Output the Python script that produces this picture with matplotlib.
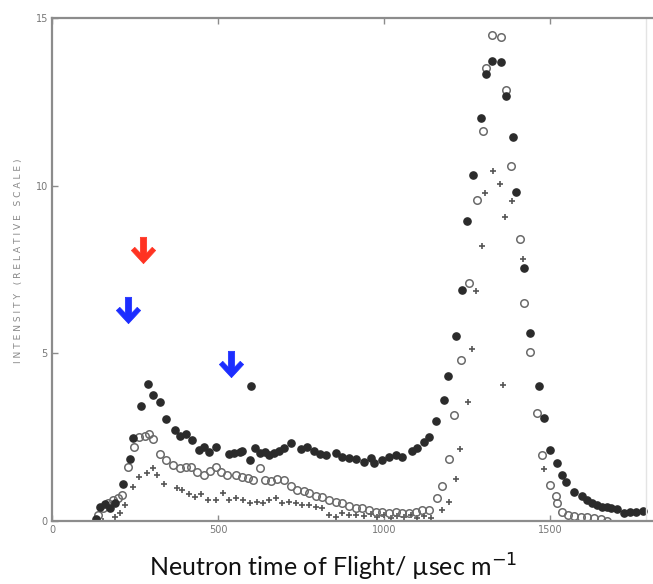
import matplotlib
matplotlib.use("Agg")
import matplotlib.pyplot as plt
from matplotlib.path import Path
import numpy as np

# time of flight (usec/m) and intensity for the three runs
filled_x = [132, 144, 159, 175, 190, 213, 234, 243, 267, 288, 303, 324, 342, 369, 384, 405, 423,
            444, 459, 474, 495, 534, 549, 565, 573, 595, 600, 610, 625, 640, 655, 670, 685, 700,
            720, 751, 769, 790, 808, 826, 856, 874, 895, 915, 940, 961, 970, 994, 1015, 1036,
            1054, 1084, 1099, 1120, 1135, 1156, 1180, 1192, 1216, 1234, 1249, 1267, 1291, 1306,
            1324, 1351, 1366, 1387, 1396, 1423, 1441, 1468, 1483, 1501, 1520, 1535, 1547, 1571,
            1595, 1610, 1625, 1640, 1655, 1670, 1685, 1703, 1724, 1742, 1760, 1781]
filled_y = [0.05, 0.42, 0.5, 0.4, 0.55, 1.1, 1.85, 2.48, 3.43, 4.09, 3.76, 3.55, 3.04, 2.72, 2.54,
            2.6, 2.42, 2.12, 2.21, 2.06, 2.21, 2.0, 2.03, 2.06, 2.09, 1.82, 4.03, 2.18, 2.03, 2.06,
            1.97, 2.03, 2.1, 2.18, 2.33, 2.15, 2.21, 2.09, 2.0, 1.97, 2.03, 1.91, 1.88, 1.85, 1.76,
            1.88, 1.73, 1.82, 1.91, 1.97, 1.91, 2.09, 2.18, 2.36, 2.5, 2.99, 3.6, 4.33, 5.52, 6.9,
            8.96, 10.33, 12.03, 13.34, 13.73, 13.7, 12.66, 11.46, 9.82, 7.55, 5.61, 4.03, 3.07,
            2.12, 1.73, 1.37, 1.16, 0.87, 0.75, 0.63, 0.54, 0.48, 0.42, 0.42, 0.39, 0.36, 0.24,
            0.27, 0.27, 0.30]

open_x = [138, 153, 168, 183, 198, 210, 228, 246, 261, 279, 291, 303, 324, 342, 363, 384, 405,
          420, 438, 459, 477, 495, 510, 528, 555, 573, 589, 604, 625, 640, 661, 679, 700, 721,
          739, 760, 775, 796, 814, 835, 856, 874, 895, 916, 934, 955, 976, 994, 1015, 1036, 1054,
          1075, 1096, 1114, 1135, 1159, 1174, 1195, 1210, 1231, 1255, 1279, 1297, 1306, 1324,
          1351, 1366, 1381, 1408, 1420, 1441, 1462, 1477, 1501, 1518, 1520, 1535, 1553, 1571,
          1592, 1610, 1631, 1652, 1670]
open_y = [0.18, 0.39, 0.54, 0.63, 0.7, 0.78, 1.61, 2.21, 2.51, 2.54, 2.6, 2.45, 2.0, 1.82, 1.67,
          1.58, 1.61, 1.61, 1.46, 1.37, 1.5, 1.61, 1.46, 1.37, 1.37, 1.31, 1.28, 1.22, 1.58, 1.22,
          1.19, 1.25, 1.22, 1.04, 0.93, 0.9, 0.84, 0.75, 0.72, 0.63, 0.57, 0.54, 0.45, 0.39, 0.39,
          0.33, 0.27, 0.27, 0.24, 0.27, 0.24, 0.24, 0.27, 0.33, 0.33, 0.69, 1.04, 1.85, 3.16,
          4.81, 7.1, 9.58, 11.64, 13.52, 14.48, 14.42, 12.84, 10.6, 8.42, 6.5, 5.04, 3.22, 1.97,
          1.07, 0.75, 0.54, 0.27, 0.18, 0.15, 0.12, 0.12, 0.09, 0.06, 0.0]

plus_x = [153, 189, 204, 219, 243, 261, 285, 303, 315, 336, 375, 393, 414, 432, 450, 471, 495,
          516, 534, 555, 574, 595, 616, 634, 655, 676, 694, 715, 736, 754, 775, 796, 814, 835,
          856, 874, 895, 916, 940, 960, 980, 1000, 1020, 1040, 1060, 1080, 1100, 1120, 1141,
          1174, 1195, 1216, 1228, 1252, 1264, 1276, 1294, 1303, 1327, 1348, 1357, 1363, 1384,
          1417, 1483]
plus_y = [0.0, 0.12, 0.24, 0.48, 1.0, 1.31, 1.43, 1.58, 1.37, 1.1, 0.99, 0.93, 0.8, 0.72, 0.8,
          0.63, 0.64, 0.84, 0.63, 0.7, 0.63, 0.54, 0.57, 0.54, 0.63, 0.69, 0.54, 0.57, 0.54, 0.48,
          0.48, 0.42, 0.39, 0.18, 0.12, 0.24, 0.18, 0.18, 0.15, 0.2, 0.12, 0.18, 0.1, 0.15, 0.12,
          0.18, 0.1, 0.15, 0.09, 0.33, 0.57, 1.25, 2.15, 3.55, 5.13, 6.87, 8.21, 9.79, 10.45,
          10.06, 4.06, 9.07, 9.55, 7.82, 1.55]

# marker arrows: (x, y, colour)
arrows = [(274, 8.08, "#ff3322"), (229, 6.29, "#1c2dff"), (539, 4.67, "#1c2dff")]

x_ticks = [0, 500, 1000, 1500]
y_ticks = [0, 5, 10, 15]

grey = "#8c8c8c"

fig = plt.figure(figsize=(6.53, 5.84), dpi=100)
ax = fig.add_axes([52 / 653, 63 / 584, 601 / 653, 503 / 584])

ax.plot(plus_x, plus_y, "+", color="#555555", ms=4.5, mew=1.2, ls="none")
ax.plot(open_x, open_y, "o", mfc="none", mec="#6a6a6a", ms=5.4, mew=1.1, ls="none")
ax.plot(filled_x, filled_y, "o", color="#2b2b2b", ms=5.2, ls="none")

# thick down arrows built as a custom marker
arrow_path = Path([(-0.12, 0.5), (-0.12, -0.1), (-0.33, 0.12), (-0.46, 0.0), (0, -0.5),
                   (0.46, 0.0), (0.33, 0.12), (0.12, -0.1), (0.12, 0.5), (-0.12, 0.5)],
                  [Path.MOVETO] + [Path.LINETO] * 8 + [Path.CLOSEPOLY])
for ax_x, ax_y, col in arrows:
    ax.plot(ax_x, ax_y, marker=arrow_path, ms=19, color=col, mec=col, mew=0.5, ls="none")

ax.set_xlim(0, 1810)
ax.set_ylim(0, 15)
ax.set_xticks(x_ticks)
ax.set_yticks(y_ticks)
ax.set_xticklabels([str(t) for t in x_ticks])
ax.set_yticklabels([str(t) for t in y_ticks])
ax.tick_params(direction="in", length=4, width=1, color=grey, labelcolor="#777777",
               labelsize=7, pad=3, top=True)

for side in ["left", "bottom", "top"]:
    ax.spines[side].set_color(grey)
    ax.spines[side].set_linewidth(1.6)
ax.spines["right"].set_visible(False)
ax.axvline(1790, color="#e4e4e4", lw=1)

ylab = "   ".join(" ".join(w) for w in ["INTENSITY", "(RELATIVE", "SCALE)"])
fig.text(0.028, 0.553, ylab, rotation=90, ha="center", va="center",
         fontsize=6.6, color="#888888")
fig.text(0.511, 0.028, "Neutron time of Flight/ \u00b5sec m$^{-1}$", ha="center", va="center",
         fontsize=18, family="Lato", color="#111111")

fig.savefig("out.png", dpi=100)
